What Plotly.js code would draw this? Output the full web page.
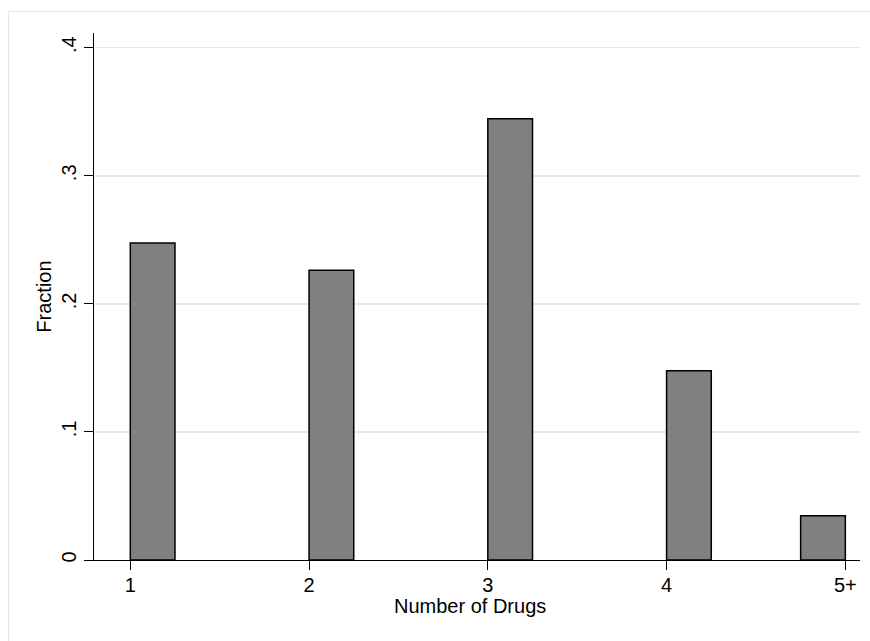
<!DOCTYPE html>
<html>
<head>
<meta charset="utf-8">
<script src="https://cdn.plot.ly/plotly-3.0.1.min.js"></script>
<style>
  html, body { margin: 0; padding: 0; background: #fff; }
  #chart { width: 870px; height: 641px; position: relative; }
  #frame { position: absolute; left: 8px; top: 11px; width: 900px; height: 700px;
           border: 1px solid #e6e6e6; box-sizing: border-box; pointer-events: none; }
</style>
</head>
<body>
<div id="chart"></div>
<div id="frame"></div>
<script>
const categories = ["1", "2", "3", "4", "5+"];
const positions = [1, 2, 3, 4, 5];
const fractions = [0.2476, 0.2263, 0.3446, 0.1477, 0.0346];
const yTickVals = [0, 0.1, 0.2, 0.3, 0.4];
const yTickText = ["0", ".1", ".2", ".3", ".4"];

const trace = {
  type: 'bar',
  x: positions,
  y: fractions,
  width: 0.25,
  offset: [0, 0, 0, 0, -0.25],
  marker: { color: '#808080', line: { color: '#000000', width: 1.5 } },
  hoverinfo: 'x+y'
};

const font = { family: 'Liberation Sans, Arial, sans-serif', size: 20, color: '#000' };

const layout = {
  width: 870, height: 641,
  margin: { l: 94, r: 10, t: 33, b: 81 },
  paper_bgcolor: '#ffffff',
  plot_bgcolor: '#ffffff',
  showlegend: false,
  font: font,
  xaxis: {
    range: [0.797, 5.082],
    tickmode: 'array', tickvals: positions, ticktext: categories,
    ticks: 'outside', ticklen: 9, tickwidth: 1, tickcolor: '#000',
    ticklabelstandoff: -2,
    showline: true, linecolor: '#000', linewidth: 1,
    showgrid: false, zeroline: false,
    tickfont: font
  },
  yaxis: {
    range: [0, 0.4115],
    tickmode: 'array', tickvals: yTickVals, ticktext: yTickText,
    tickangle: -90,
    ticks: 'outside', ticklen: 9, tickwidth: 1, tickcolor: '#000',
    showline: true, linecolor: '#000', linewidth: 1,
    showgrid: true, gridcolor: '#e8e8e8', gridwidth: 1.5,
    zeroline: false,
    tickfont: font,
    title: { text: 'Fraction', font: font, standoff: 1 }
  },
  annotations: [{
    text: 'Number of Drugs', font: font, showarrow: false,
    xref: 'paper', yref: 'paper', x: 0.4909, y: -0.0873,
    xanchor: 'center', yanchor: 'middle'
  }]
};

Plotly.newPlot('chart', [trace], layout, { displayModeBar: false, staticPlot: true });
</script>
</body>
</html>
